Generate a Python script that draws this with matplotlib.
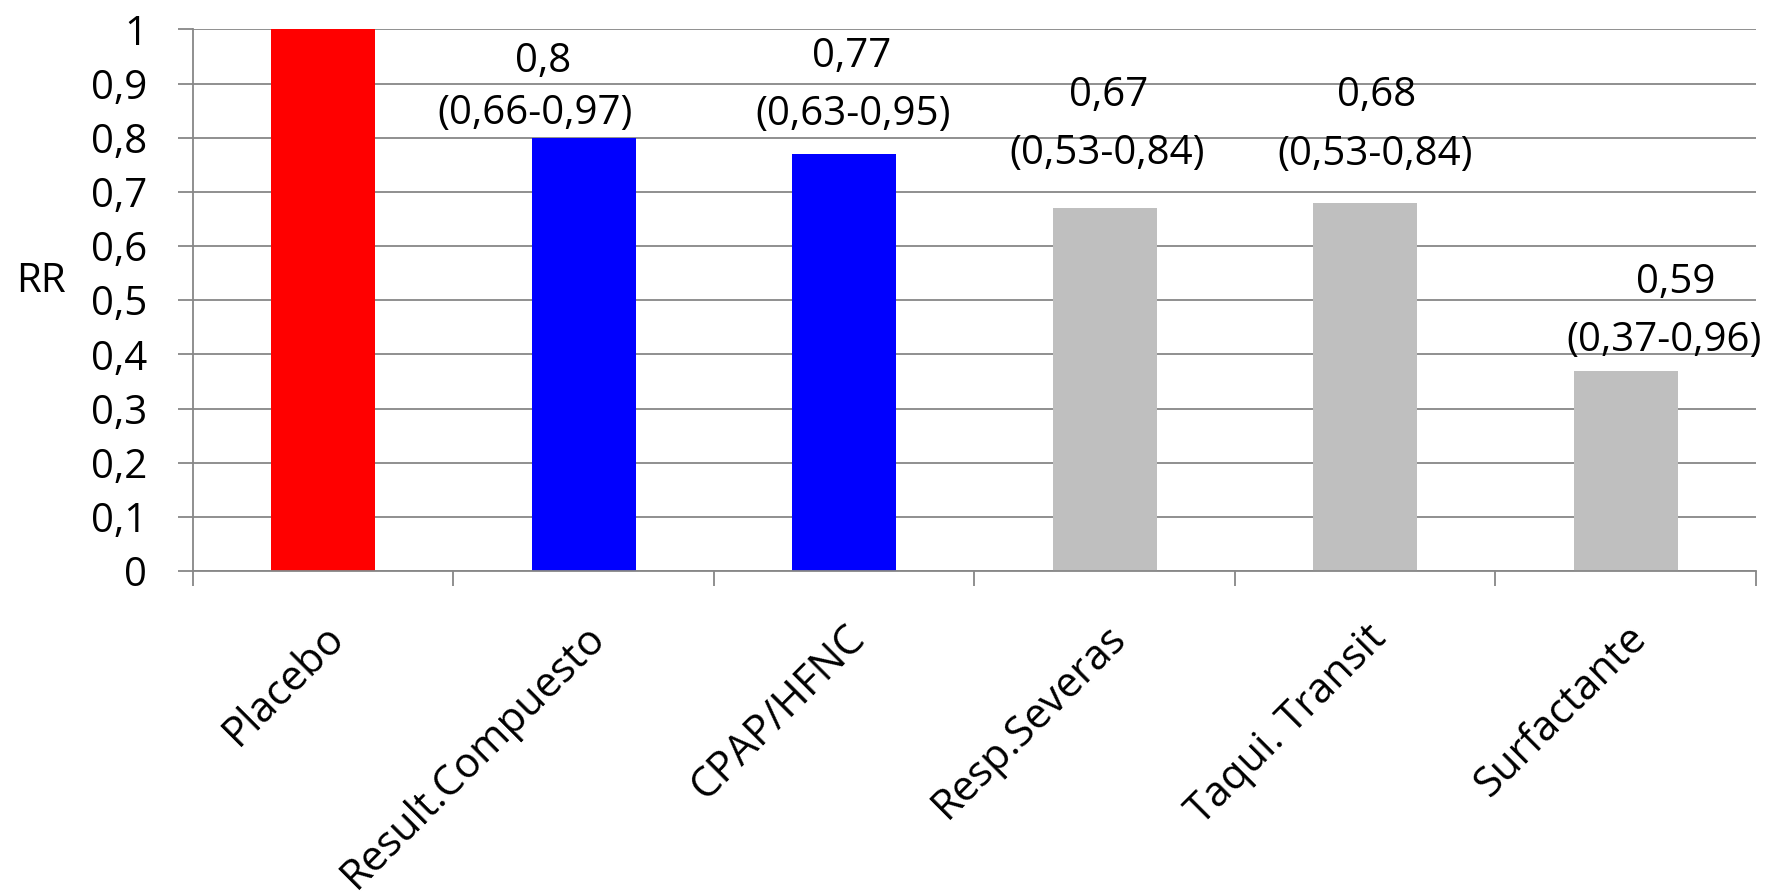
import matplotlib
matplotlib.use("Agg")
import matplotlib.pyplot as plt
import numpy as np

plt.rcParams['font.family'] = ['Open Sans', 'DejaVu Sans']

# Data
categories = ["Placebo", "Result.Compuesto", "CPAP/HFNC", "Resp.Severas",
              "Taqui. Transit", "Surfactante"]
bar_heights = [1.0, 0.80, 0.77, 0.67, 0.68, 0.37]
rr_text = ["", "0,8", "0,77", "0,67", "0,68", "0,59"]
ci_text = ["", "(0,66-0,97)", "(0,63-0,95)", "(0,53-0,84)", "(0,53-0,84)", "(0,37-0,96)"]
yticks = [0, 0.1, 0.2, 0.3, 0.4, 0.5, 0.6, 0.7, 0.8, 0.9, 1.0]
ytick_labels = ["0", "0,1", "0,2", "0,3", "0,4", "0,5", "0,6", "0,7", "0,8", "0,9", "1"]

# Styling / placement of the annotations
bar_colors = ["#FF0000", "#0000FF", "#0000FF", "#BFBFBF", "#BFBFBF", "#BFBFBF"]
rr_dx = [0, -0.157, 0.03, 0.016, 0.043, 0.19]
ci_dx = [0, -0.188, 0.035, 0.008, 0.038, 0.146]
rr_y = [0, 0.940, 0.949, 0.877, 0.877, 0.532]
ci_y = [0, 0.844, 0.842, 0.770, 0.768, 0.426]

FS = 29
FS_CAT = 30
GRID = "#878787"

fig = plt.figure(figsize=(17.75, 8.96), dpi=100)
ax = fig.add_axes([0.1087, 0.3627, 0.9893 - 0.1087, 0.9671 - 0.3627])

x = np.arange(len(categories))
ax.bar(x, bar_heights, width=0.4, color=bar_colors, zorder=3)

ax.set_xlim(-0.5, len(categories) - 0.5)
ax.set_ylim(0, 1)

# Horizontal gridlines
ax.set_yticks(yticks)
ax.set_yticklabels(ytick_labels)
ax.yaxis.grid(True, color=GRID, linewidth=1.3, zorder=0)
ax.set_axisbelow(True)

# Category labels at centres, tick marks at category boundaries
ax.set_xticks(x)
ax.set_xticklabels(categories)
ax.set_xticks(np.arange(-0.5, len(categories)), minor=True)
ax.tick_params(axis='x', which='major', length=0, pad=33, labelsize=FS_CAT)
ax.tick_params(axis='x', which='minor', length=11, width=1.3, color=GRID)
ax.tick_params(axis='y', length=11, width=1.3, color=GRID, pad=22, labelsize=FS)
for lab in ax.get_xticklabels():
    lab.set_rotation(45)
    lab.set_ha('right')
    lab.set_va('top')
    lab.set_rotation_mode('anchor')

for side in ['top', 'right']:
    ax.spines[side].set_visible(False)
for side in ['left', 'bottom']:
    ax.spines[side].set_color(GRID)
    ax.spines[side].set_linewidth(1.3)
    ax.spines[side].set_zorder(4)

ax.set_ylabel("RR", rotation=0, fontsize=FS, va='center', ha='center')
ax.yaxis.set_label_coords(-0.097, 0.535)

# Relative risk with confidence interval above each treatment bar
for i in range(1, len(categories)):
    ax.text(i + rr_dx[i], rr_y[i], rr_text[i], ha='center', va='center',
            fontsize=FS, zorder=5)
    ax.text(i + ci_dx[i], ci_y[i], ci_text[i], ha='center', va='center',
            fontsize=FS, zorder=5)

fig.savefig("out.png", dpi=100, facecolor="white")
